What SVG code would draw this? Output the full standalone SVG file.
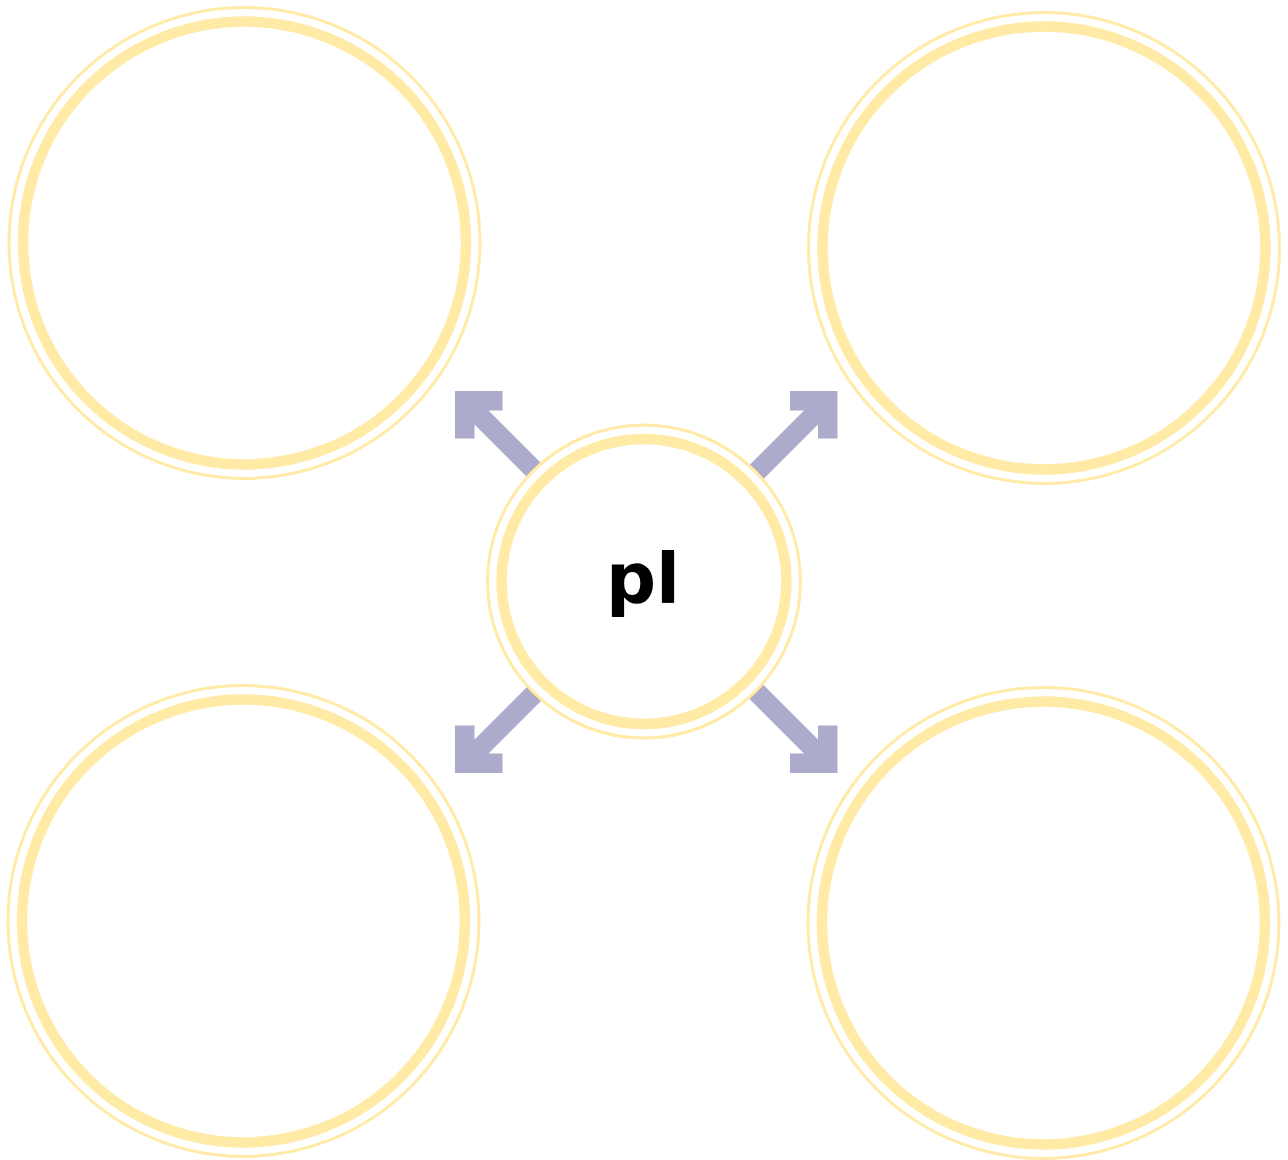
<svg xmlns="http://www.w3.org/2000/svg" width="1288" height="1160" viewBox="0 0 1288 1160">
  <style>
    .thin { fill: #ffffff; stroke: #FFEAA6; stroke-width: 3; }
    .thick { fill: none; stroke: #FFEAA6; stroke-width: 10.5; }
    .arrow { fill: #ADABCC; }
    .label { font-family: "DejaVu Sans", "Liberation Sans", sans-serif; font-weight: bold; font-size: 70px; fill: #000000; text-anchor: middle; }
  </style>
  <defs>
    <polygon id="arrowShape" class="arrow" points="0,0 47.5,0 47.5,19.5 33.5,19.5 100,86 86,100 19.5,33.5 19.5,47.5 0,47.5"/>
  </defs>
  <rect width="1288" height="1160" fill="#ffffff"/>
  <g id="connectors">
    <use href="#arrowShape" transform="translate(455,391)"/>
    <use href="#arrowShape" transform="translate(837.5,391) scale(-1,1)"/>
    <use href="#arrowShape" transform="translate(455,773) scale(1,-1)"/>
    <use href="#arrowShape" transform="translate(837.5,773) scale(-1,-1)"/>
  </g>
  <g id="node-top-left">
    <circle class="thin" cx="244.5" cy="243" r="235.5"/>
    <circle class="thick" cx="244.5" cy="243" r="221.5"/>
  </g>
  <g id="node-top-right">
    <circle class="thin" cx="1044" cy="248" r="235.5"/>
    <circle class="thick" cx="1044" cy="248" r="221.5"/>
  </g>
  <g id="node-bottom-left">
    <circle class="thin" cx="243.5" cy="921" r="235.5"/>
    <circle class="thick" cx="243.5" cy="921" r="221.5"/>
  </g>
  <g id="node-bottom-right">
    <circle class="thin" cx="1043.5" cy="923" r="235.5"/>
    <circle class="thick" cx="1043.5" cy="923" r="221.5"/>
  </g>
  <g id="node-center">
    <circle class="thin" cx="644" cy="581.5" r="156.5"/>
    <circle class="thick" cx="644" cy="581.5" r="142.5"/>
    <text class="label" x="643" y="603">pl</text>
  </g>
</svg>
